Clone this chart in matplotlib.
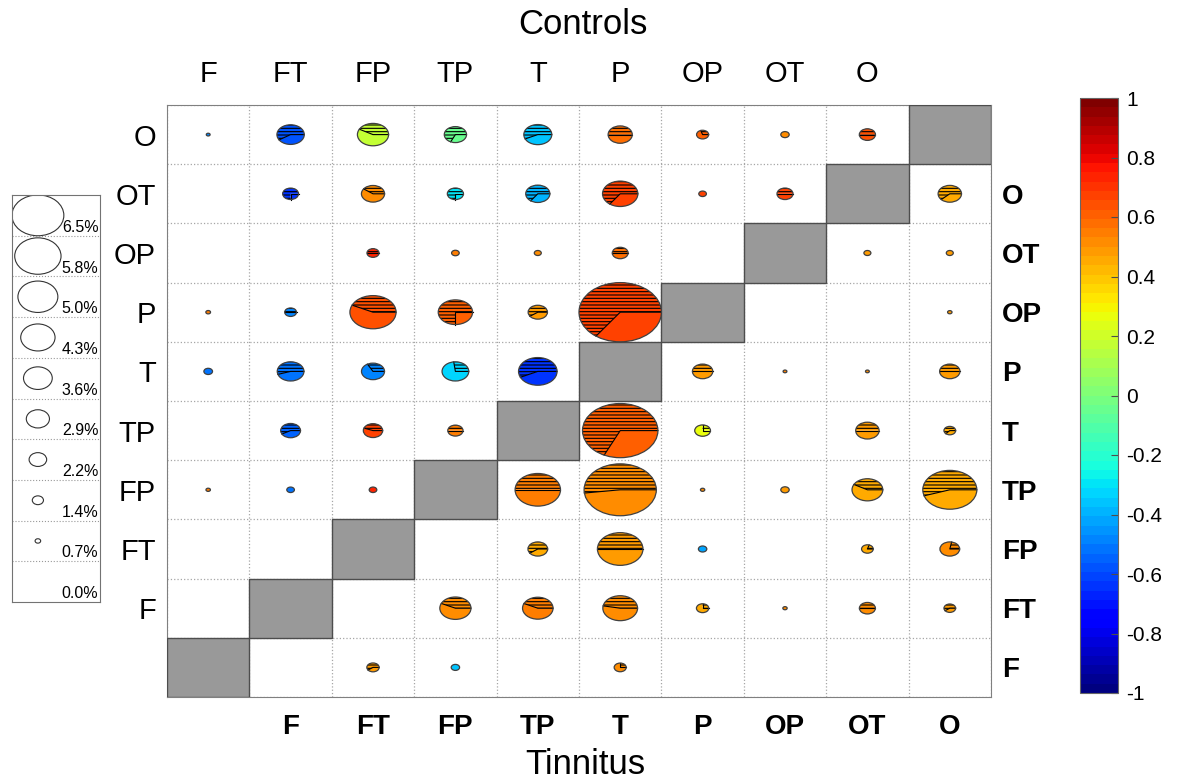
import matplotlib
matplotlib.use("Agg")
import matplotlib.pyplot as plt
import matplotlib as mpl
import numpy as np
from matplotlib.patches import Wedge, Circle, Rectangle

plt.rcParams['font.family'] = 'Liberation Sans'
plt.rcParams['hatch.linewidth'] = 0.8

nan = np.nan

# region labels
top_labels = ['F', 'FT', 'FP', 'TP', 'T', 'P', 'OP', 'OT', 'O']
left_labels = ['O', 'OT', 'OP', 'P', 'T', 'TP', 'FP', 'FT', 'F']
bottom_labels = ['F', 'FT', 'FP', 'TP', 'T', 'P', 'OP', 'OT', 'O']
right_labels = ['O', 'OT', 'OP', 'P', 'T', 'TP', 'FP', 'FT', 'F']

# pie size (%) per cell, row 0 at top; the anti-diagonal is left empty
size_pct = np.array([
    [0.30, 2.15, 2.45, 1.75, 2.20, 1.90, 0.95, 0.66, 1.27, nan],
    [nan, 1.25, 1.82, 1.27, 1.90, 2.78, 0.60, 1.26, nan, 1.84],
    [nan, nan, 0.95, 0.60, 0.55, 1.25, nan, nan, 0.55, 0.55],
    [0.37, 0.93, 3.63, 2.70, 1.52, 6.48, nan, nan, nan, 0.35],
    [0.68, 2.10, 1.81, 2.10, 3.03, nan, 1.60, 0.30, 0.30, 1.60],
    [nan, 1.56, 1.52, 1.20, nan, 5.93, 1.24, nan, 1.84, 0.92],
    [0.35, 0.60, 0.60, nan, 3.57, 5.68, 0.34, 0.66, 2.42, 4.25],
    [nan, nan, nan, nan, 1.55, 3.58, 0.66, nan, 0.92, 1.55],
    [nan, nan, nan, 2.45, 2.40, 2.73, 0.97, 0.34, 1.26, 0.92],
    [nan, nan, 0.97, 0.66, nan, 0.95, nan, nan, nan, nan],
])

# correlation value per cell (colour)
corr = np.array([
    [-0.50, -0.58, 0.18, -0.06, -0.37, 0.58, 0.60, 0.50, 0.63, nan],
    [nan, -0.65, 0.50, -0.30, -0.40, 0.66, 0.66, 0.66, nan, 0.46],
    [nan, nan, 0.72, 0.55, 0.50, 0.58, nan, nan, 0.47, 0.47],
    [0.55, -0.50, 0.64, 0.60, 0.49, 0.67, nan, nan, nan, 0.47],
    [-0.52, -0.52, -0.50, -0.33, -0.65, nan, 0.47, 0.55, 0.50, 0.47],
    [nan, -0.55, 0.66, 0.55, nan, 0.62, 0.27, nan, 0.47, 0.45],
    [0.55, -0.52, 0.72, nan, 0.55, 0.52, 0.50, 0.47, 0.45, 0.44],
    [nan, nan, nan, nan, 0.45, 0.48, -0.42, nan, 0.45, 0.53],
    [nan, nan, nan, 0.50, 0.55, 0.53, 0.45, 0.50, 0.51, 0.47],
    [nan, nan, 0.49, -0.35, nan, 0.50, nan, nan, nan, nan],
])

# hatched share of each pie
hatch_frac = np.array([
    [0.00, 0.59, 0.42, 0.68, 0.57, 0.50, 0.30, 0.00, 0.50, nan],
    [nan, 0.75, 0.40, 0.75, 0.65, 0.65, 0.00, 0.50, nan, 0.62],
    [nan, nan, 0.50, 0.00, 0.00, 0.50, nan, nan, 0.00, 0.00],
    [0.00, 0.50, 0.43, 0.75, 0.60, 0.65, nan, nan, nan, 0.00],
    [0.00, 0.55, 0.33, 0.27, 0.57, nan, 0.50, 0.00, 0.00, 0.50],
    [nan, 0.58, 0.44, 0.50, nan, 0.68, 0.25, nan, 0.50, 0.63],
    [0.00, 0.00, 0.00, nan, 0.50, 0.52, 0.00, 0.00, 0.42, 0.55],
    [nan, nan, nan, nan, 0.60, 0.50, 0.00, nan, 0.20, 0.22],
    [nan, nan, nan, 0.43, 0.43, 0.47, 0.25, 0.00, 0.50, 0.60],
    [nan, nan, 0.60, 0.00, nan, 0.25, nan, nan, nan, nan],
])

legend_pct = [6.5, 5.8, 5.0, 4.3, 3.6, 2.9, 2.2, 1.4, 0.7, 0.0]
cbar_ticks = [1, 0.8, 0.6, 0.4, 0.2, 0, -0.2, -0.4, -0.6, -0.8, -1]
cbar_labels = ['1', '0.8', '0.6', '0.4', '0.2', '0', '-0.2', '-0.4', '-0.6', '-0.8', '-1']

n = 10
vmax = np.nanmax(size_pct)
cmap = plt.get_cmap('jet', 64)
norm = mpl.colors.Normalize(-1, 1)

fig = plt.figure(figsize=(11.79, 7.82), dpi=100)
ax = fig.add_axes([167/1179, 1-697/782, 824/1179, 592/782])
ax.set_xlim(0, n)
ax.set_ylim(0, n)

# dotted cell grid
ax.set_xticks(np.arange(n+1), minor=True)
ax.set_yticks(np.arange(n+1), minor=True)
ax.grid(which='minor', ls=':', color='0.65', lw=0.9)
ax.tick_params(which='both', length=0)
for sp in ax.spines.values():
    sp.set_color('0.5')

# grey diagonal cells
for r in range(n):
    c = n - 1 - r
    ax.add_patch(Rectangle((c, n-1-r), 1, 1, fc='0.6', ec='0.3', lw=1, zorder=3))

def draw_pie(axis, x, y, rad, col, frac):
    if frac > 0:
        ang = 360*frac
        axis.add_patch(Wedge((x, y), rad, 0, ang, fc=col, ec='none', zorder=4))
        axis.add_patch(Wedge((x, y), rad, 0, ang, fc='none', ec='k', lw=0, hatch='-----', zorder=5))
        if frac < 1:
            axis.add_patch(Wedge((x, y), rad, ang, 360, fc=col, ec='none', zorder=4))
            t = np.deg2rad(ang)
            axis.plot([x + rad, x, x + rad*np.cos(t)], [y, y, y + rad*np.sin(t)],
                      color='k', lw=0.8, zorder=6)
    else:
        axis.add_patch(Circle((x, y), rad, fc=col, ec='none', zorder=4))
    axis.add_patch(Circle((x, y), rad, fc='none', ec='0.25', lw=0.9, zorder=6))

for r in range(n):
    for c in range(n):
        v = size_pct[r, c]
        if np.isnan(v):
            continue
        draw_pie(ax, c + 0.5, n - 0.5 - r, 0.5*v/vmax, cmap(norm(corr[r, c])), hatch_frac[r, c])

# tick labels on all four sides
centers = np.arange(n) + 0.5
ax.set_xticks(centers[1:])
ax.set_xticklabels(bottom_labels, fontsize=20, fontweight='bold')
ax.set_yticks(centers[::-1][1:])
ax.set_yticklabels(right_labels, fontsize=20, fontweight='bold')
ax.yaxis.tick_right()
ax.tick_params(axis='x', pad=12)
ax.tick_params(axis='y', pad=8)

secx = ax.secondary_xaxis('top')
secx.set_xticks(centers[:-1])
secx.set_xticklabels(top_labels, fontsize=21)
secx.tick_params(length=0, pad=12)
secy = ax.secondary_yaxis('left')
secy.set_yticks(centers[::-1][:-1])
secy.set_yticklabels(left_labels, fontsize=21)
secy.tick_params(length=0, pad=8)
for s in (secx, secy):
    for sp in s.spines.values():
        sp.set_visible(False)

fig.text(583/1179, 1-25/782, 'Controls', ha='center', va='center', fontsize=25)
fig.text(585/1179, 1-764/782, 'Tinnitus', ha='center', va='center', fontsize=25)

# size legend
lax = fig.add_axes([12/1179, 1-602/782, 88/1179, 407/782])
lax.set_xlim(0, 1.7)
lax.set_ylim(0, n)
lax.set_xticks([])
lax.set_yticks([])
for sp in lax.spines.values():
    sp.set_color('0.45')
for k, p in enumerate(legend_pct):
    yc = n - 0.5 - k
    if p > 0:
        lax.add_patch(Circle((0.5, yc), 0.5*p/vmax, fc='white', ec='0.2', lw=0.8))
    lax.text(1.67, yc - 0.48, '%.1f%%' % p, ha='right', va='bottom', fontsize=11.5)
    if k > 0:
        lax.axhline(yc + 0.5, color='0.6', ls=':', lw=0.8)

# colour bar
cax = fig.add_axes([1080/1179, 1-693/782, 38/1179, 595/782])
sm = mpl.cm.ScalarMappable(norm=norm, cmap=cmap)
cb = fig.colorbar(sm, cax=cax, ticks=cbar_ticks)
cb.set_ticklabels(cbar_labels)
cb.ax.tick_params(direction='in', length=5, width=0.8, labelsize=15, color='0.3', pad=6)
cb.outline.set_edgecolor('0.4')

fig.savefig('out.png', dpi=100)
